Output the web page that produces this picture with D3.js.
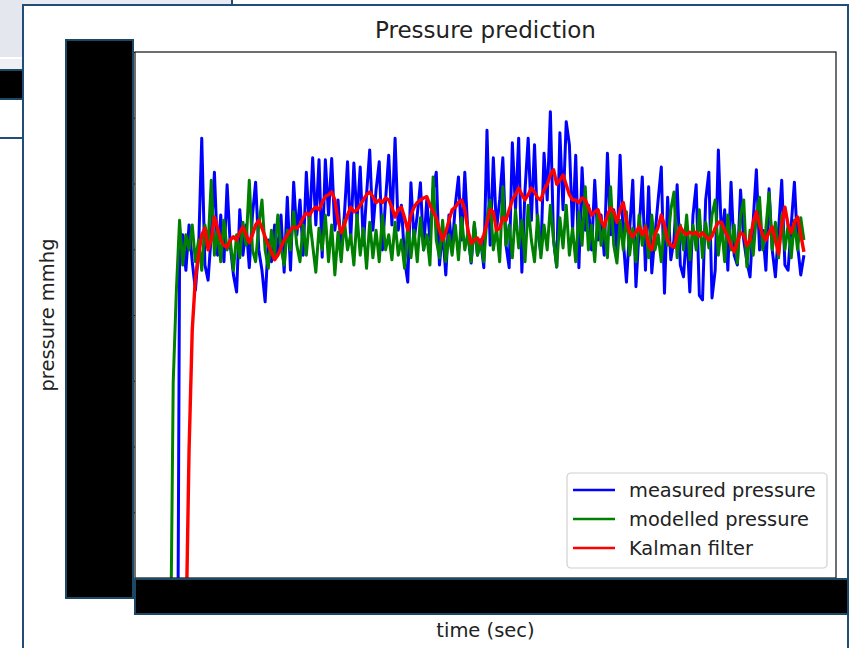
<!DOCTYPE html>
<html>
<head>
<meta charset="utf-8">
<script src="https://cdn.jsdelivr.net/npm/d3@7"></script>
<style>
  body { margin: 0; background: #fff; }
  text { font-family: "DejaVu Sans", sans-serif; fill: #222; }
</style>
</head>
<body>
<svg id="chart" width="853" height="648"></svg>
<script>
// sampling step of the recording (sec)
var sampleStep = 0.5;

// measured pressure (mmHg)
var measured = [
  -60, -60, -60, 48.8, 52.2, 46.8, 53.7, 48.1, 43.8, 49.9,
  66.9, 47.6, 45.3, 52.2, 61.7, 49.1, 55.2, 48.1, 59.8, 50.6,
  46.1, 43.5, 56.0, 49.1, 53.7, 47.2, 55.2, 60.2, 49.9, 46.8,
  42.0, 51.4, 48.1, 53.7, 49.1, 55.2, 46.5, 57.9, 46.8, 60.2,
  52.2, 57.5, 49.1, 61.7, 52.9, 63.9, 53.7, 63.6, 48.8, 63.6,
  55.2, 63.8, 52.9, 57.5, 49.9, 55.2, 63.3, 51.4, 63.1, 54.4,
  62.5, 50.6, 58.3, 65.1, 52.9, 59.0, 63.3, 49.9, 57.5, 64.3,
  53.7, 66.9, 52.9, 56.7, 48.4, 45.0, 60.1, 51.4, 55.2, 60.1,
  49.9, 57.5, 51.4, 59.0, 61.7, 47.6, 52.9, 46.1, 55.2, 49.9,
  56.7, 61.0, 51.4, 61.7, 52.2, 47.9, 53.7, 49.1, 51.4, 47.2,
  68.1, 50.6, 63.9, 52.9, 57.5, 63.9, 50.6, 47.2, 66.2, 56.0,
  66.9, 46.5, 59.0, 66.9, 54.4, 65.9, 52.9, 49.3, 64.6, 57.5,
  70.9, 51.4, 47.3, 67.7, 56.0, 69.4, 65.9, 52.9, 64.3, 47.2,
  62.4, 52.9, 56.7, 49.9, 60.5, 51.4, 55.2, 49.1, 64.6, 52.2,
  56.0, 49.9, 64.3, 51.4, 45.0, 52.9, 60.5, 44.3, 52.9, 61.0,
  46.8, 59.5, 46.4, 52.2, 57.5, 62.5, 43.3, 57.9, 48.4, 51.4,
  59.8, 47.6, 45.8, 52.9, 43.5, 55.2, 59.8, 43.0, 42.3, 57.5,
  61.7, 42.6, 46.8, 65.1, 51.4, 56.0, 46.8, 60.2, 49.1, 47.6,
  59.0, 51.4, 48.1, 45.8, 54.4, 62.1, 49.9, 52.9, 46.8, 59.2,
  49.9, 45.8, 52.9, 60.5, 47.6, 46.8, 53.7, 60.2, 50.6, 46.1,
  49.1
];

// modelled pressure (mmHg)
var modelled = [
  -20, 29.8, 43.8, 54.4, 47.6, 52.2, 49.9, 53.7, 48.1, 51.4,
  46.8, 53.7, 50.6, 60.5, 49.1, 52.9, 48.1, 54.4, 49.9, 51.4,
  46.8, 52.2, 48.7, 54.1, 50.6, 60.5, 49.9, 48.1, 53.7, 57.5,
  49.9, 47.1, 52.9, 49.1, 55.2, 50.2, 47.6, 52.9, 49.9, 55.7,
  50.6, 48.1, 53.7, 49.1, 54.8, 50.6, 46.5, 53.2, 49.9, 55.2,
  48.1, 53.7, 46.1, 52.6, 48.1, 54.4, 49.9, 52.2, 47.6, 55.2,
  49.1, 53.2, 47.1, 54.1, 48.7, 52.9, 48.1, 55.2, 49.9, 52.2,
  48.4, 54.1, 49.1, 51.4, 47.1, 53.7, 48.7, 52.9, 48.1, 54.8,
  49.9, 52.2, 47.6, 61.0, 51.4, 48.7, 54.4, 48.1, 52.2, 49.1,
  53.7, 48.4, 54.8, 49.9, 52.6, 48.1, 54.1, 49.1, 51.4, 48.1,
  54.8, 57.5, 49.9, 53.2, 48.1, 59.5, 50.6, 53.7, 48.7, 56.0,
  50.2, 54.4, 48.1, 56.7, 51.4, 48.1, 55.2, 48.7, 53.7, 49.9,
  56.7, 51.4, 47.3, 54.8, 50.2, 56.7, 49.1, 53.2, 48.1, 55.7,
  50.6, 59.5, 49.9, 53.7, 48.1, 56.0, 50.6, 53.7, 48.7, 59.5,
  50.6, 47.9, 54.4, 49.9, 55.7, 49.1, 53.2, 48.1, 55.2, 50.6,
  53.7, 48.7, 55.2, 49.9, 52.2, 48.1, 53.7, 50.6, 56.0, 58.7,
  48.7, 53.7, 49.9, 55.2, 48.4, 53.7, 49.9, 56.0, 48.7, 54.1,
  50.2, 55.2, 57.5, 49.1, 53.7, 48.1, 55.2, 49.9, 53.7, 47.9,
  55.2, 57.5, 47.3, 52.9, 49.1, 55.2, 57.9, 49.9, 53.2, 58.6,
  49.9, 54.1, 48.7, 55.2, 49.9, 53.7, 48.7, 54.4, 49.9, 54.8,
  51.4
];

// Kalman filter estimate (mmHg)
var kalman = [
  -210, -170, -130, -90, -49, -9.4, 19.5, 37.7, 45.6, 49.1,
  52.2, 53.2, 49.9, 51.4, 54.9, 53.2, 51.4, 50.6, 50.3, 51.4,
  51.9, 51.4, 52.6, 53.4, 52.2, 51.0, 52.2, 53.7, 54.4, 53.2,
  51.9, 50.6, 49.6, 48.4, 49.1, 50.3, 51.4, 52.2, 52.9, 53.4,
  53.2, 53.7, 54.8, 55.5, 55.2, 56.0, 56.4, 56.0, 57.1, 58.0,
  58.3, 58.7, 57.5, 54.4, 52.5, 53.7, 55.2, 56.4, 55.7, 56.0,
  56.7, 57.5, 58.3, 58.7, 58.0, 57.1, 57.5, 57.1, 57.8, 57.5,
  56.4, 54.9, 56.0, 56.4, 54.8, 52.9, 55.2, 56.4, 57.1, 57.5,
  57.8, 58.0, 56.7, 55.7, 54.8, 52.9, 51.4, 52.6, 54.4, 56.0,
  56.4, 57.1, 57.5, 56.0, 52.9, 50.9, 51.4, 51.7, 50.9, 52.2,
  54.0, 56.0, 55.7, 52.9, 53.2, 54.8, 54.4, 56.0, 57.5, 58.3,
  59.3, 58.3, 57.5, 58.3, 59.3, 58.7, 57.8, 57.5, 59.0, 59.9,
  61.3, 62.1, 59.9, 60.5, 61.3, 59.8, 58.3, 57.5, 57.5, 57.1,
  57.8, 57.5, 56.4, 55.2, 55.7, 56.0, 54.4, 53.4, 55.2, 56.3,
  55.7, 54.1, 56.0, 57.1, 54.4, 52.6, 51.9, 52.6, 53.4, 52.2,
  53.4, 50.6, 49.9, 52.2, 53.4, 55.2, 53.7, 51.4, 50.6, 50.3,
  52.2, 53.4, 52.6, 52.2, 52.6, 52.3, 52.6, 52.0, 52.5, 52.0,
  51.4, 52.0, 53.2, 54.1, 54.1, 52.9, 51.9, 50.6, 49.6, 51.1,
  52.5, 52.2, 50.6, 51.4, 54.1, 55.7, 53.7, 52.2, 51.4, 52.6,
  53.4, 51.4, 49.3, 53.7, 56.4, 53.7, 52.5, 54.1, 54.9, 52.2,
  49.6
];

var seriesNames = ['measured pressure', 'modelled pressure', 'Kalman filter'];
var seriesColors = ['#0000ff', '#008000', '#ff0000'];
var seriesWidths = [3, 3, 3.4];
var yTicks = [0, 10, 20, 30, 40, 50, 60, 70, 80];
var xTicks = [0, 20, 40, 60, 80, 100];

var svg = d3.select('#chart');

// --- bits of the surrounding window, outside the figure frame ---
svg.append('rect').attr('x', 0).attr('y', 0).attr('width', 232).attr('height', 5).attr('fill', '#e9ebf2');
svg.append('rect').attr('x', 0).attr('y', 0).attr('width', 23).attr('height', 57).attr('fill', '#e5e7ef');
svg.append('rect').attr('x', 0).attr('y', 59).attr('width', 23).attr('height', 11).attr('fill', '#eef0f4');
svg.append('line').attr('x1', 232).attr('x2', 232).attr('y1', 0).attr('y2', 5)
  .attr('stroke', '#1f4e79').attr('stroke-width', 2);
svg.append('rect').attr('x', -2).attr('y', 70).attr('width', 26).attr('height', 29)
  .attr('fill', '#000').attr('stroke', '#1b4965').attr('stroke-width', 2);
svg.append('line').attr('x1', 0).attr('x2', 23).attr('y1', 138).attr('y2', 138)
  .attr('stroke', '#1f4e79').attr('stroke-width', 2);

// figure frame
svg.append('rect').attr('x', 23).attr('y', 5).attr('width', 825).attr('height', 680)
  .attr('fill', '#fff').attr('stroke', '#1f4e79').attr('stroke-width', 2);

// plot area
var margin = { left: 135, top: 52, right: 836, bottom: 578 };

var x = d3.scaleLinear()
  .domain([-5.53, 105.06])
  .range([margin.left, margin.right]);

var y = d3.scaleLinear()
  .domain([0, 80])
  .range([margin.bottom, margin.top]);

svg.append('defs').append('clipPath').attr('id', 'plotClip')
  .append('rect')
  .attr('x', margin.left).attr('y', margin.top)
  .attr('width', margin.right - margin.left)
  .attr('height', margin.bottom - margin.top);

var line = d3.line()
  .x(function (d, i) { return x(i * sampleStep); })
  .y(function (d) { return y(d); });

var plot = svg.append('g').attr('clip-path', 'url(#plotClip)');

[measured, modelled, kalman].forEach(function (values, k) {
  plot.append('path')
    .datum(values)
    .attr('fill', 'none')
    .attr('stroke', seriesColors[k])
    .attr('stroke-width', seriesWidths[k])
    .attr('stroke-linejoin', 'round')
    .attr('d', line);
});

// axes (tick labels end up under the redaction boxes, as in the picture)
svg.append('g')
  .attr('transform', 'translate(' + margin.left + ',0)')
  .call(d3.axisLeft(y).tickValues(yTicks).tickSize(7).tickPadding(5))
  .call(function (g) { g.select('.domain').remove(); })
  .call(function (g) { g.selectAll('text').attr('font-size', 19).attr('font-family', 'DejaVu Sans'); });

svg.append('g')
  .attr('transform', 'translate(0,' + margin.bottom + ')')
  .call(d3.axisBottom(x).tickValues(xTicks).tickSize(7).tickPadding(5))
  .call(function (g) { g.select('.domain').remove(); })
  .call(function (g) { g.selectAll('text').attr('font-size', 19).attr('font-family', 'DejaVu Sans'); });

// spines
svg.append('rect')
  .attr('x', margin.left).attr('y', margin.top)
  .attr('width', margin.right - margin.left)
  .attr('height', margin.bottom - margin.top)
  .attr('fill', 'none').attr('stroke', '#222').attr('stroke-width', 1.3);

// redaction boxes over the tick labels
svg.append('rect').attr('x', 66).attr('y', 40).attr('width', 67).attr('height', 558)
  .attr('fill', '#000').attr('stroke', '#1b4965').attr('stroke-width', 2);
svg.append('rect').attr('x', 135).attr('y', 579).attr('width', 713).attr('height', 35)
  .attr('fill', '#000').attr('stroke', '#1b4965').attr('stroke-width', 2);

// title and axis labels
svg.append('text')
  .attr('x', (margin.left + margin.right) / 2).attr('y', 38)
  .attr('text-anchor', 'middle').attr('font-size', 23)
  .text('Pressure prediction');

svg.append('text')
  .attr('x', (margin.left + margin.right) / 2).attr('y', 637)
  .attr('text-anchor', 'middle').attr('font-size', 19.5)
  .text('time (sec)');

svg.append('text')
  .attr('transform', 'translate(54,' + ((margin.top + margin.bottom) / 2) + ') rotate(-90)')
  .attr('text-anchor', 'middle').attr('font-size', 19.5)
  .text('pressure mmhg');

// legend
var legend = svg.append('g').attr('transform', 'translate(567,473)');
legend.append('rect')
  .attr('width', 260).attr('height', 95).attr('rx', 4)
  .attr('fill', '#fff').attr('fill-opacity', 0.8)
  .attr('stroke', '#d0d0d0').attr('stroke-width', 1.2);

var rows = legend.selectAll('.row')
  .data(seriesNames)
  .enter().append('g')
  .attr('class', 'row')
  .attr('transform', function (d, i) { return 'translate(0,' + (17 + i * 29) + ')'; });

rows.append('line')
  .attr('x1', 6).attr('x2', 48)
  .attr('stroke', function (d, i) { return seriesColors[i]; })
  .attr('stroke-width', 2.4);

rows.append('text')
  .attr('x', 62).attr('y', 7)
  .attr('font-size', 19.4)
  .text(function (d) { return d; });
</script>
</body>
</html>
